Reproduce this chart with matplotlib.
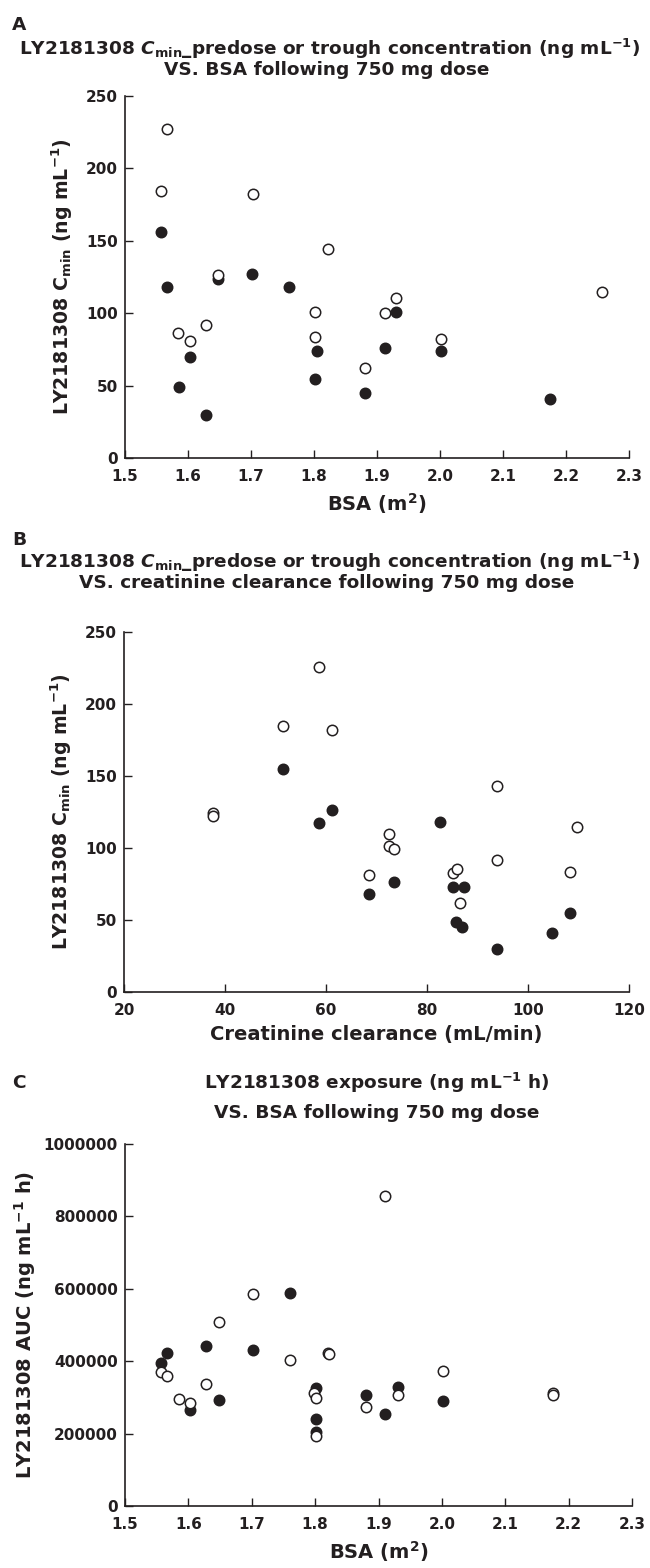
import matplotlib
matplotlib.use("Agg")
from matplotlib import pyplot as plt

# heavy sans to stand in for Gill Sans Bold
plt.rcParams['font.family'] = ['DejaVu Sans']
plt.rcParams['font.weight'] = 'bold'
plt.rcParams['mathtext.fontset'] = 'custom'
plt.rcParams['mathtext.rm'] = 'DejaVu Sans:bold'
plt.rcParams['mathtext.it'] = 'DejaVu Sans:bold:italic'
plt.rcParams['mathtext.bf'] = 'DejaVu Sans:bold'
plt.rcParams['mathtext.default'] = 'regular'

INK = '#231f20'

# panel A: Cmin vs BSA
a_open_bsa = [1.567, 1.557, 1.703, 1.648, 1.584, 1.603, 1.628, 1.801, 1.801, 1.822, 1.930, 1.912, 2.001, 1.881, 2.257]
a_open_cmin = [227, 184.5, 182.5, 126.7, 86.2, 81.1, 91.7, 100.9, 83.6, 144.2, 110.8, 100.2, 82.3, 62.2, 114.3]
a_fill_bsa = [1.557, 1.567, 1.586, 1.603, 1.628, 1.648, 1.702, 1.761, 1.804, 1.801, 1.881, 1.912, 1.930, 2.001, 2.175]
a_fill_cmin = [156.2, 117.8, 48.9, 69.6, 30.0, 123.5, 127, 117.8, 73.7, 54.6, 45, 76, 100.9, 73.7, 40.8]

# panel B: Cmin vs creatinine clearance
b_open_crcl = [37.6, 37.6, 51.5, 58.7, 61.2, 68.5, 72.5, 72.5, 73.4, 85.1, 86.0, 86.6, 93.9, 93.9, 109.8, 108.3]
b_open_cmin = [124.5, 122.5, 184.5, 225.7, 181.9, 81.0, 110, 101.4, 99.5, 82.4, 85.4, 62, 143.3, 91.9, 114.6, 83.3]
b_fill_crcl = [51.5, 58.7, 61.2, 68.5, 73.4, 82.5, 85.1, 87.3, 85.7, 86.9, 93.9, 104.7, 108.3]
b_fill_cmin = [155, 117.4, 126.4, 68.3, 76.2, 117.8, 73.1, 73.1, 48.8, 45.4, 30.1, 41.2, 54.6]

# panel C: AUC vs BSA
c_open_bsa = [1.557, 1.567, 1.585, 1.603, 1.628, 1.648, 1.702, 1.760, 1.798, 1.802, 1.802, 1.821, 1.822,
              1.911, 1.881, 1.930, 2.001, 2.175, 2.175]
c_open_auc = [369000, 358000, 295000, 285000, 336000, 507000, 587000, 403000, 311000, 299000, 192000, 424000, 420000,
              856000, 273000, 307000, 374000, 312000, 306000]
c_fill_bsa = [1.557, 1.567, 1.603, 1.628, 1.648, 1.702, 1.760, 1.802, 1.802, 1.802, 1.881, 1.911, 1.930, 2.001]
c_fill_auc = [395000, 423000, 265000, 443000, 292000, 432000, 588000, 326000, 241000, 205000, 306000, 254000, 330000, 289000]

bsa_ticks = [1.5, 1.6, 1.7, 1.8, 1.9, 2.0, 2.1, 2.2, 2.3]
bsa_labels = ['1.5', '1.6', '1.7', '1.8', '1.9', '2.0', '2.1', '2.2', '2.3']
crcl_ticks = [20, 40, 60, 80, 100, 120]
cmin_ticks = [0, 50, 100, 150, 200, 250]
auc_ticks = [0, 200000, 400000, 600000, 800000, 1000000]

W, H = 650, 1568
fig = plt.figure(figsize=(W / 100, H / 100), dpi=100)


def px_axes(left, right, top, bottom):
    return fig.add_axes([left / W, 1 - bottom / H, (right - left) / W, (bottom - top) / H])


def style(ax):
    for s in ['top', 'right']:
        ax.spines[s].set_visible(False)
    for s in ['left', 'bottom']:
        ax.spines[s].set_color(INK)
        ax.spines[s].set_linewidth(1.2)
    ax.tick_params(direction='in', length=6, width=1, color=INK, labelcolor=INK, labelsize=11)
    ax.tick_params(axis='x', pad=8)
    ax.tick_params(axis='y', pad=5)
    for lab in ax.get_xticklabels() + ax.get_yticklabels():
        lab.set_fontweight('bold')


def dots(ax, xf, yf, xo, yo):
    ax.plot(xf, yf, 'o', ms=7.5, mfc=INK, mec=INK, mew=1.1, ls='none', clip_on=False)
    ax.plot(xo, yo, 'o', ms=7.5, mfc='white', mec=INK, mew=1.1, ls='none', clip_on=False)


def label(x, y, s, **kw):
    fig.text(x / W, 1 - y / H, s, fontsize=13.3, fontweight='bold', color=INK, va='center', **kw)


# ---- A
axA = px_axes(125, 629, 96, 458)
dots(axA, a_fill_bsa, a_fill_cmin, a_open_bsa, a_open_cmin)
axA.set_xlim(1.5, 2.3)
axA.set_ylim(0, 250)
axA.set_xticks(bsa_ticks)
axA.set_xticklabels(bsa_labels)
axA.set_yticks(cmin_ticks)
axA.set_xlabel('BSA (m$^{2}$)', fontsize=14, fontweight='bold', color=INK, labelpad=5)
axA.set_ylabel('LY2181308 C$_{min}$ (ng mL$^{-1}$)', fontsize=13.6, fontweight='bold', color=INK, labelpad=8)
style(axA)

label(12, 25, 'A')
label(330, 49, 'LY2181308 $\\mathit{C}_{min}$_predose or trough concentration (ng mL$^{-1}$)', ha='center')
label(327, 70, 'VS. BSA following 750 mg dose', ha='center')

# ---- B
axB = px_axes(124, 629, 632, 992)
dots(axB, b_fill_crcl, b_fill_cmin, b_open_crcl, b_open_cmin)
axB.set_xlim(20, 120)
axB.set_ylim(0, 250)
axB.set_xticks(crcl_ticks)
axB.set_yticks(cmin_ticks)
axB.set_xlabel('Creatinine clearance (mL/min)', fontsize=14, fontweight='bold', color=INK, labelpad=5)
axB.set_ylabel('LY2181308 C$_{min}$ (ng mL$^{-1}$)', fontsize=13.6, fontweight='bold', color=INK, labelpad=8)
style(axB)

label(12, 540, 'B')
label(330, 562, 'LY2181308 $\\mathit{C}_{min}$_predose or trough concentration (ng mL$^{-1}$)', ha='center')
label(327, 583, 'VS. creatinine clearance following 750 mg dose', ha='center')

# ---- C
axC = px_axes(125, 632, 1144, 1506)
dots(axC, c_fill_bsa, c_fill_auc, c_open_bsa, c_open_auc)
axC.set_xlim(1.5, 2.3)
axC.set_ylim(0, 1000000)
axC.set_xticks(bsa_ticks)
axC.set_xticklabels(bsa_labels)
axC.set_yticks(auc_ticks)
axC.set_yticklabels([str(t) for t in auc_ticks])
axC.set_xlabel('BSA (m$^{2}$)', fontsize=14, fontweight='bold', color=INK, labelpad=5)
axC.set_ylabel('LY2181308 AUC (ng mL$^{-1}$ h)', fontsize=14, fontweight='bold', color=INK, labelpad=4)
style(axC)

label(12, 1083, 'C')
label(377, 1083, 'LY2181308 exposure (ng mL$^{-1}$ h)', ha='center')
label(377, 1113, 'VS. BSA following 750 mg dose', ha='center')

fig.savefig('out.png', dpi=100)
